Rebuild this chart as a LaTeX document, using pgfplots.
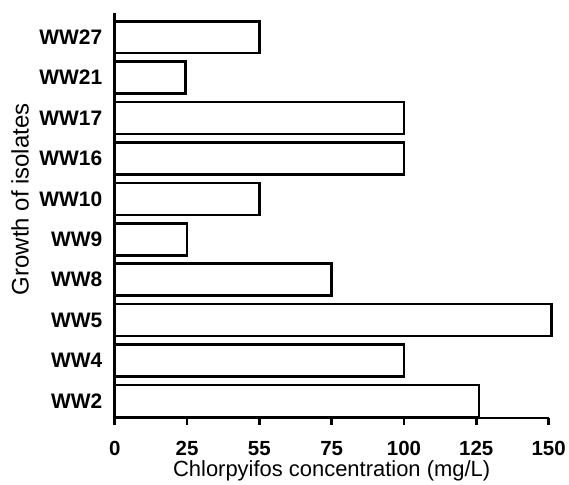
\documentclass[border=0pt]{standalone}
\usepackage{pgfplots}
\pgfplotsset{compat=1.18}
\usepackage{fontspec}
\setmainfont{Liberation Sans}
\begin{document}
\begin{tikzpicture}
\begin{axis}[
  scale only axis,
  width=435pt, height=406pt,
  xmin=0, xmax=150,
  ymin=-0.42, ymax=9.6,
  axis x line=bottom, axis y line=left,
  axis line style={line width=2.6pt, -},
  xtick={0,25,50,75,100,125,150},
  xticklabels={0,25,55,75,100,125,150},
  ytick={0,...,9},
  yticklabels={WW2,WW4,WW5,WW8,WW9,WW10,WW16,WW17,WW21,WW27},
  tick align=outside,
  major tick length=7pt,
  xtick style={line width=2.6pt, black},
  ytick style={draw=none},
  /pgf/number format/assume math mode=true,
  xticklabel style={font=\fontsize{20.5}{24}\selectfont\bfseries, yshift=-13pt},
  yticklabel style={font=\fontsize{21}{24}\selectfont\bfseries, xshift=-2pt},
  xlabel={Chlorpyifos concentration (mg/L)},
  ylabel={Growth of isolates},
  xlabel style={font=\fontsize{22}{26}\selectfont, at={(rel axis cs:0.5,-0.13)}, anchor=center},
  ylabel style={font=\fontsize{24}{28}\selectfont, at={(rel axis cs:-0.218,0.54)}, anchor=center, rotate=0},
  clip=false,
]
\addplot[xbar, bar width=32pt, draw=black, fill=white, line width=2.6pt]
coordinates {
(126,0) (100,1) (151,2) (75,3) (25,4) (50,5) (100,6) (100,7) (24.5,8) (50,9)
};
\end{axis}
\path ([shift={(-115pt,-66pt)}]current axis.south west) rectangle ([shift={(19pt,13pt)}]current axis.north east);
\end{tikzpicture}
\end{document}
